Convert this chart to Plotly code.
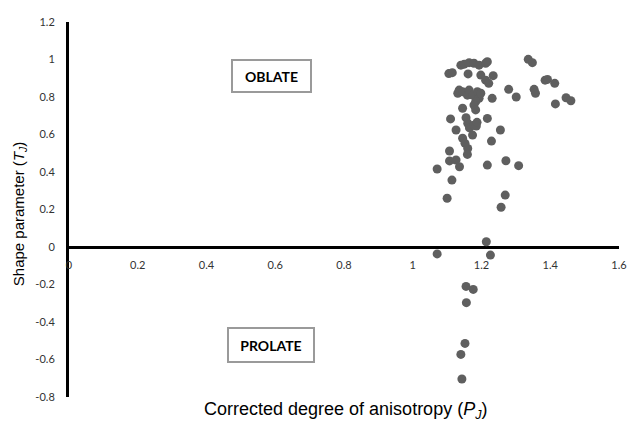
import plotly.graph_objects as go

# Corrected degree of anisotropy (PJ)
pj = [1.105, 1.115, 1.140, 1.150, 1.164, 1.178, 1.193, 1.212, 1.217, 1.161,
      1.198, 1.212, 1.234, 1.221, 1.135, 1.131, 1.145, 1.159, 1.164, 1.174,
      1.188, 1.193, 1.198, 1.183, 1.178, 1.231, 1.145, 1.183, 1.336, 1.348,
      1.279, 1.301, 1.353, 1.357, 1.385, 1.392, 1.413, 1.415, 1.446, 1.460,
      1.110, 1.155, 1.160, 1.165, 1.178, 1.185, 1.187, 1.217, 1.126, 1.174,
      1.255, 1.145, 1.152, 1.160, 1.159, 1.229, 1.107, 1.107, 1.126, 1.136,
      1.071, 1.217, 1.271, 1.308, 1.114, 1.100, 1.269, 1.257, 1.214, 1.071,
      1.226, 1.155, 1.176, 1.156, 1.152, 1.140, 1.143]
# Shape parameter (TJ)
tj = [0.925, 0.930, 0.970, 0.975, 0.983, 0.980, 0.970, 0.980, 0.988, 0.923,
      0.917, 0.890, 0.914, 0.873, 0.837, 0.820, 0.828, 0.810, 0.837, 0.810,
      0.828, 0.793, 0.820, 0.775, 0.757, 0.793, 0.740, 0.731, 1.001, 0.983,
      0.841, 0.800, 0.841, 0.820, 0.890, 0.894, 0.873, 0.763, 0.796, 0.780,
      0.683, 0.690, 0.660, 0.635, 0.650, 0.645, 0.665, 0.686, 0.624, 0.597,
      0.624, 0.580, 0.553, 0.526, 0.494, 0.565, 0.512, 0.459, 0.464, 0.428,
      0.416, 0.437, 0.460, 0.434, 0.357, 0.260, 0.277, 0.212, 0.028, -0.037,
      -0.043, -0.210, -0.226, -0.297, -0.514, -0.573, -0.704]

x_ticks = [0, 0.2, 0.4, 0.6, 0.8, 1.0, 1.2, 1.4, 1.6]
x_labels = ["0", "0.2", "0.4", "0.6", "0.8", "1", "1.2", "1.4", "1.6"]
y_ticks = [-0.8, -0.6, -0.4, -0.2, 0, 0.2, 0.4, 0.6, 0.8, 1.0, 1.2]
y_labels = ["-0.8", "-0.6", "-0.4", "-0.2", "0", "0.2", "0.4", "0.6", "0.8", "1", "1.2"]

tick_font = dict(family="Lato, Open Sans, sans-serif", size=11, color="#333333")

fig = go.Figure()
fig.add_trace(go.Scatter(
    x=pj, y=tj, mode="markers",
    marker=dict(size=9, color="#5f5f5f", line=dict(width=0)),
    showlegend=False, hoverinfo="x+y",
))

fig.update_layout(
    width=638, height=421,
    margin=dict(l=69, r=11, t=22, b=24),
    paper_bgcolor="white", plot_bgcolor="white",
    xaxis=dict(
        range=[0, 1.6], tickvals=x_ticks, ticktext=x_labels,
        showgrid=False, zeroline=False, showline=False,
        anchor="free", position=0.4, ticks="", ticklabelstandoff=10,
        tickfont=tick_font,
    ),
    yaxis=dict(
        range=[-0.8, 1.2], tickvals=y_ticks, ticktext=y_labels,
        showgrid=False, zeroline=True, zerolinecolor="black", zerolinewidth=3,
        showline=True, linecolor="black", linewidth=3, ticks="",
        ticklabelstandoff=9, tickfont=tick_font,
    ),
    annotations=[
        dict(text="Corrected degree of anisotropy (<i>P<sub>J</sub></i>)",
             xref="paper", yref="paper", x=0.502, y=-0.035,
             xanchor="center", yanchor="middle", showarrow=False,
             font=dict(family="Liberation Sans, Arial, sans-serif", size=18, color="black")),
        dict(text="Shape parameter (<i>T<sub>J</sub></i>)",
             xref="paper", yref="paper", x=-0.091, y=0.49, textangle=-90,
             xanchor="center", yanchor="middle", showarrow=False,
             font=dict(family="Liberation Sans, Arial, sans-serif", size=15, color="black")),
        dict(text="<b>OBLATE</b>", xref="paper", yref="paper", x=0.369, y=0.856,
             xanchor="center", yanchor="middle", showarrow=False,
             width=75, height=28, borderpad=1, borderwidth=2, bordercolor="#9a9a9a",
             bgcolor="white",
             font=dict(family="Lato, Open Sans, sans-serif", size=14, color="black")),
        dict(text="<b>PROLATE</b>", xref="paper", yref="paper", x=0.368, y=0.14,
             xanchor="center", yanchor="middle", showarrow=False,
             width=82, height=30, borderpad=1, borderwidth=2, bordercolor="#9a9a9a",
             bgcolor="white",
             font=dict(family="Lato, Open Sans, sans-serif", size=14, color="black")),
    ],
)

fig.write_html(
    "out.html",
    config={"displayModeBar": False},
    post_script="document.body.style.margin='0';document.body.style.overflow='hidden';",
)
